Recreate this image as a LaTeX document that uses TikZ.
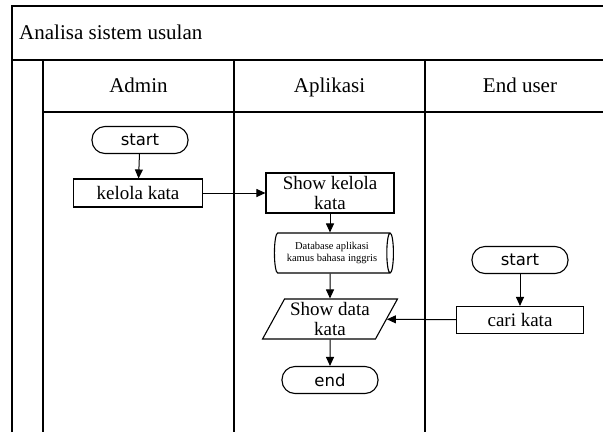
\documentclass[tikz,border=0pt]{standalone}
\usepackage{fontspec}
\setmainfont{Liberation Serif}
\newfontfamily\sansf{DejaVu Sans}
\usetikzlibrary{shapes.geometric,arrows.meta}
\begin{document}
\begin{tikzpicture}[x=1pt,y=-1pt,
  lane/.style={line width=1.8pt},
  termbox/.style={draw,line width=1.1pt,rounded corners=13pt,minimum width=96pt,minimum height=27pt,inner sep=0pt,font=\sansf\fontsize{16.5}{18}\selectfont},
  procbox/.style={draw,line width=1.1pt,minimum height=28pt,inner sep=0pt,font=\fontsize{19}{20}\selectfont,align=center},
  dbbox/.style={draw,line width=1.1pt,cylinder,aspect=0.3,minimum height=119pt,minimum width=40pt,inner sep=0pt,font=\fontsize{10.5}{12.5}\selectfont,align=center},
  iobox/.style={draw,line width=1.1pt,trapezium,trapezium left angle=60,trapezium right angle=120,trapezium stretches=true,minimum width=135pt,minimum height=40pt,inner sep=0pt,font=\fontsize{19}{20}\selectfont,align=center},
  flow/.style={line width=1pt,-{Triangle[length=9pt,width=8pt]}},
  hdr/.style={font=\fontsize{21}{24}\selectfont,inner sep=0pt}]
\useasboundingbox (0,0) rectangle (603,432);
\fill[white] (0,0) rectangle (603,432);
% frame
\draw[lane] (12,432) -- (12,6) -- (603,6);
\draw[lane] (12,60) -- (603,60);
\draw[lane] (43,112) -- (603,112);
\draw[lane] (43,60) -- (43,432);
\draw[lane] (234,60) -- (234,432);
\draw[lane] (425,60) -- (425,432);
\node[hdr,anchor=base west] (title) at (19,39) {Analisa sistem usulan};
\node[hdr,anchor=base] (hadmin) at (138.5,92) {Admin};
\node[hdr,anchor=base] (happ) at (329.5,92) {Aplikasi};
\node[hdr,anchor=base] (huser) at (520,92) {End user};
% nodes
\node[termbox] (s1) at (140,140) {start};
\node[procbox,minimum width=129pt] (k1) at (138,193) {kelola kata};
\node[procbox,minimum width=128pt,minimum height=40pt] (sk) at (330,193) {Show kelola\\kata};
\node[dbbox] (db) at (332,253) {Database aplikasi\\kamus bahasa inggris};
\node[iobox] (sd) at (330,319) {Show data\\kata};
\node[termbox] (e1) at (330,380) {end};
\node[termbox] (s2) at (520,260) {start};
\node[procbox,minimum width=127pt,minimum height=27pt] (cari) at (520,320) {cari kata};
% connectors
\draw[flow] (s1) -- (k1);
\draw[flow] (k1) -- (sk);
\draw[flow] (sk) -- (sk|-db.north);
\draw[flow] (sk|-db.south) -- (sd);
\draw[flow] (sd) -- (e1);
\draw[flow] (s2) -- (cari);
\draw[flow] (cari) -- (sd);
\end{tikzpicture}
\end{document}
